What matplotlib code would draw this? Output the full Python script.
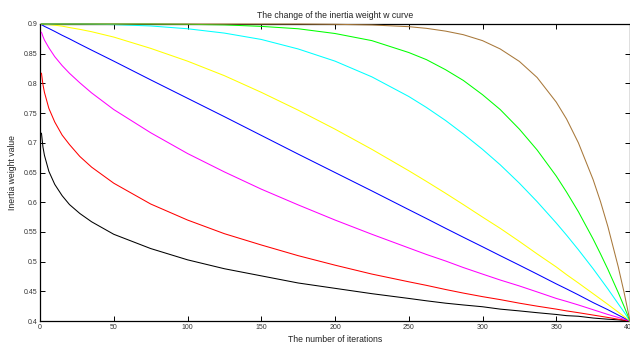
import matplotlib
matplotlib.use("Agg")
import matplotlib.pyplot as plt
from matplotlib.ticker import FixedLocator, FixedFormatter

plt.rcParams['font.family'] = ['Liberation Sans', 'DejaVu Sans']

# iteration samples
iterations = [1, 2, 3, 6, 10, 15, 20, 27, 35, 50, 75, 100, 125, 150, 175, 200, 225, 250,
              262, 275, 287, 300, 312, 325, 337, 350, 357, 365, 375, 380, 385, 392, 396, 400]

w_black   = [0.716, 0.693, 0.679, 0.652, 0.630, 0.611, 0.596, 0.581, 0.567, 0.546, 0.522, 0.503,
             0.488, 0.476, 0.464, 0.455, 0.446, 0.438, 0.434, 0.430, 0.427, 0.424, 0.420, 0.417,
             0.414, 0.411, 0.409, 0.408, 0.405, 0.404, 0.403, 0.402, 0.401, 0.400]
w_red     = [0.817, 0.798, 0.785, 0.758, 0.735, 0.713, 0.697, 0.677, 0.659, 0.632, 0.597, 0.570,
             0.547, 0.528, 0.510, 0.494, 0.479, 0.466, 0.460, 0.453, 0.447, 0.441, 0.436, 0.430,
             0.425, 0.420, 0.417, 0.414, 0.410, 0.408, 0.406, 0.403, 0.4015, 0.400]
w_magenta = [0.886, 0.879, 0.873, 0.860, 0.845, 0.830, 0.817, 0.801, 0.784, 0.756, 0.717, 0.682,
             0.651, 0.622, 0.5955, 0.570, 0.546, 0.523, 0.512, 0.501, 0.490, 0.479, 0.469, 0.459,
             0.449, 0.438, 0.433, 0.427, 0.419, 0.415, 0.411, 0.406, 0.403, 0.400]
w_blue    = [0.899, 0.8975, 0.896, 0.8925, 0.8875, 0.881, 0.875, 0.866, 0.856, 0.8375, 0.806, 0.775,
             0.744, 0.7125, 0.681, 0.650, 0.619, 0.5875, 0.5725, 0.556, 0.541, 0.525, 0.510, 0.494,
             0.479, 0.4625, 0.454, 0.444, 0.431, 0.425, 0.419, 0.410, 0.405, 0.400]
w_yellow  = [0.900, 0.900, 0.8997, 0.899, 0.898, 0.8964, 0.894, 0.891, 0.887, 0.878, 0.859, 0.8375,
             0.813, 0.785, 0.755, 0.723, 0.689, 0.653, 0.635, 0.615, 0.596, 0.575, 0.556, 0.534,
             0.513, 0.491, 0.478, 0.464, 0.446, 0.437, 0.428, 0.415, 0.4075, 0.400]
w_cyan    = [0.900, 0.900, 0.900, 0.900, 0.900, 0.900, 0.900, 0.900, 0.8997, 0.899, 0.8967, 0.892,
             0.8847, 0.874, 0.858, 0.8375, 0.811, 0.778, 0.7595, 0.7375, 0.715, 0.689, 0.663, 0.632,
             0.601, 0.565, 0.5445, 0.520, 0.488, 0.471, 0.454, 0.429, 0.415, 0.400]
w_green   = [0.900, 0.900, 0.900, 0.900, 0.900, 0.900, 0.900, 0.900, 0.900, 0.900, 0.900, 0.8995,
             0.8985, 0.896, 0.892, 0.884, 0.872, 0.852, 0.840, 0.823, 0.805, 0.781, 0.756, 0.723,
             0.688, 0.644, 0.617, 0.584, 0.538, 0.513, 0.487, 0.448, 0.4245, 0.400]
w_brown   = [0.900, 0.900, 0.900, 0.900, 0.900, 0.900, 0.900, 0.900, 0.900, 0.900, 0.900, 0.900,
             0.900, 0.900, 0.900, 0.8995, 0.8984, 0.8955, 0.8927, 0.888, 0.882, 0.872, 0.858, 0.837,
             0.810, 0.7685, 0.740, 0.700, 0.638, 0.601, 0.559, 0.4915, 0.448, 0.400]

series = [w_black, w_red, w_magenta, w_blue, w_yellow, w_cyan, w_green, w_brown]
colors = ['#000000', '#ff0000', '#ff00ff', '#0000ff', '#ffff00', '#00ffff', '#00ff00', '#a8783a']

x_ticks = [0, 50, 100, 150, 200, 250, 300, 350, 400]
x_tick_labels = ['0', '50', '100', '150', '200', '250', '300', '350', '400']
y_ticks = [0.4, 0.45, 0.5, 0.55, 0.6, 0.65, 0.7, 0.75, 0.8, 0.85, 0.9]
y_tick_labels = ['0.4', '0.45', '0.5', '0.55', '0.6', '0.65', '0.7', '0.75', '0.8', '0.85', '0.9']

W, H = 630, 345
fig = plt.figure(figsize=(W / 100, H / 100), dpi=100)
ax = fig.add_axes([40 / W, 1 - 321 / H, 590 / W, 297 / H])

for ys, c in zip(series, colors):
    ax.plot(iterations, ys, color=c, linewidth=0.75, clip_on=False, zorder=3)

ax.set_xlim(0, 400)
ax.set_ylim(0.4, 0.9)
ax.xaxis.set_major_locator(FixedLocator(x_ticks))
ax.xaxis.set_major_formatter(FixedFormatter(x_tick_labels))
ax.yaxis.set_major_locator(FixedLocator(y_ticks))
ax.yaxis.set_major_formatter(FixedFormatter(y_tick_labels))

ax.tick_params(direction='in', length=3.5, width=0.7, top=True, right=True,
               labelsize=5, labelcolor='#333333', color='#000000')
ax.tick_params(axis='y', pad=2)
ax.tick_params(axis='x', pad=2.5)
for s in ax.spines.values():
    s.set_linewidth(0.9)

fig.text(335 / W, 1 - 15 / H, 'The change of the inertia weight w curve',
         ha='center', va='center', fontsize=6.2, color='#222222')
fig.text(335 / W, 1 - 339 / H, 'The number of iterations',
         ha='center', va='center', fontsize=6.2, color='#222222')
fig.text(13 / W, 1 - 172 / H, 'Inertia weight value', rotation=90,
         ha='center', va='center', fontsize=6.2, color='#222222')

fig.savefig('out.png', dpi=100)
